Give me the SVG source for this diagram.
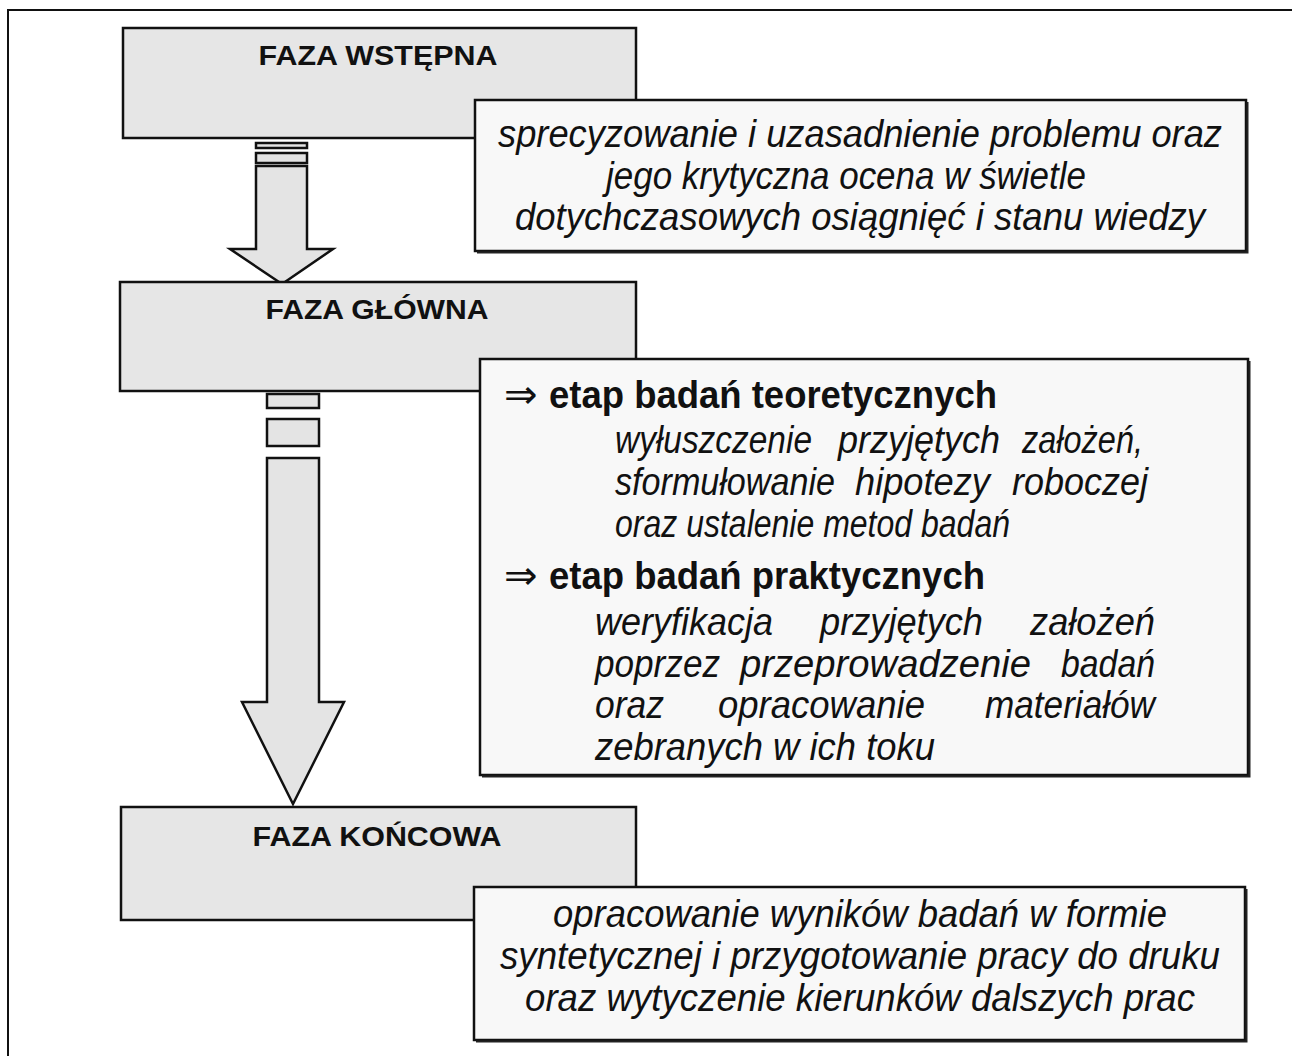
<svg xmlns="http://www.w3.org/2000/svg" width="1292" height="1056" viewBox="0 0 1292 1056">
<style>
.phase{fill:#e6e6e6;stroke:#111;stroke-width:2.5}
.desc{fill:#f8f8f8;stroke:#111;stroke-width:2.5}
.shadow{fill:none;stroke:#222;stroke-width:2}
.arrow{fill:#e4e4e4;stroke:#111;stroke-width:2.5;stroke-linejoin:miter}
.pt{font-family:"Liberation Sans",Arial,sans-serif;font-weight:bold;font-size:27px;fill:#111;text-anchor:middle}
.it{font-family:"Liberation Sans",Arial,sans-serif;font-style:italic;font-size:38px;fill:#111}
.itc{font-family:"Liberation Sans",Arial,sans-serif;font-style:italic;font-size:38px;fill:#111;text-anchor:middle}
.bd{font-family:"Liberation Sans",Arial,sans-serif;font-weight:bold;font-size:38px;fill:#111}
.sym{font-family:"DejaVu Sans",sans-serif;font-size:40px;fill:#111}
</style>
<rect width="1292" height="1056" fill="#fff"/>
<g id="frame"><path d="M8 1056 V10 H1292" fill="none" stroke="#111" stroke-width="2"/></g>

<g id="connectors">
  <rect class="arrow" x="256" y="143" width="51" height="5"/>
  <rect class="arrow" x="256" y="153" width="51" height="10"/>
  <path class="arrow" d="M256 166 H307 V249 H333 L282 284 L230 249 H256 Z"/>
  <rect class="arrow" x="267" y="394" width="52" height="14"/>
  <rect class="arrow" x="267" y="419" width="52" height="27"/>
  <path class="arrow" d="M267 458 H319 V702 H344 L293 804 L242 702 H267 Z"/>
</g>

<g id="phase1">
  <rect class="phase" x="123" y="28" width="513" height="110"/>
  <text class="pt" x="378" y="65" textLength="239" lengthAdjust="spacingAndGlyphs">FAZA WSTĘPNA</text>
</g>
<g id="desc1">
  <rect class="desc" x="475" y="100" width="771" height="151"/>
  <path class="shadow" d="M477 252.5 H1247.5 V102"/>
  <text class="itc" x="860" y="147" textLength="724" lengthAdjust="spacingAndGlyphs">sprecyzowanie i uzasadnienie problemu oraz</text>
  <text class="itc" x="846" y="189" textLength="480" lengthAdjust="spacingAndGlyphs">jego krytyczna ocena w świetle</text>
  <text class="itc" x="860" y="230" textLength="690" lengthAdjust="spacingAndGlyphs">dotychczasowych osiągnięć i stanu wiedzy</text>
</g>

<g id="phase2">
  <rect class="phase" x="120" y="282" width="516" height="109"/>
  <text class="pt" x="377" y="319" textLength="223" lengthAdjust="spacingAndGlyphs">FAZA GŁÓWNA</text>
</g>
<g id="desc2">
  <rect class="desc" x="480" y="359" width="768" height="416"/>
  <path class="shadow" d="M482 776.5 H1249.5 V361"/>
  <text x="504" y="408"><tspan class="sym">⇒</tspan><tspan class="bd" x="549" textLength="448" lengthAdjust="spacingAndGlyphs">etap badań teoretycznych</tspan></text>
  <text class="it" y="453"><tspan x="615" textLength="197" lengthAdjust="spacingAndGlyphs">wyłuszczenie</tspan><tspan x="838" textLength="162" lengthAdjust="spacingAndGlyphs">przyjętych</tspan><tspan x="1022" textLength="121" lengthAdjust="spacingAndGlyphs">założeń,</tspan></text>
  <text class="it" y="495"><tspan x="615" textLength="220" lengthAdjust="spacingAndGlyphs">sformułowanie</tspan><tspan x="855" textLength="135" lengthAdjust="spacingAndGlyphs">hipotezy</tspan><tspan x="1012" textLength="136" lengthAdjust="spacingAndGlyphs">roboczej</tspan></text>
  <text class="it" x="615" y="537" textLength="395" lengthAdjust="spacingAndGlyphs">oraz ustalenie metod badań</text>
  <text x="504" y="589"><tspan class="sym">⇒</tspan><tspan class="bd" x="549" textLength="436" lengthAdjust="spacingAndGlyphs">etap badań praktycznych</tspan></text>
  <text class="it" y="635"><tspan x="595" textLength="178" lengthAdjust="spacingAndGlyphs">weryfikacja</tspan><tspan x="820" textLength="163" lengthAdjust="spacingAndGlyphs">przyjętych</tspan><tspan x="1030" textLength="125" lengthAdjust="spacingAndGlyphs">założeń</tspan></text>
  <text class="it" y="677"><tspan x="595" textLength="125" lengthAdjust="spacingAndGlyphs">poprzez</tspan><tspan x="740" textLength="291" lengthAdjust="spacingAndGlyphs">przeprowadzenie</tspan><tspan x="1061" textLength="94" lengthAdjust="spacingAndGlyphs">badań</tspan></text>
  <text class="it" y="718"><tspan x="595" textLength="69" lengthAdjust="spacingAndGlyphs">oraz</tspan><tspan x="718" textLength="207" lengthAdjust="spacingAndGlyphs">opracowanie</tspan><tspan x="985" textLength="170" lengthAdjust="spacingAndGlyphs">materiałów</tspan></text>
  <text class="it" x="595" y="760" textLength="340" lengthAdjust="spacingAndGlyphs">zebranych w ich toku</text>
</g>

<g id="phase3">
  <rect class="phase" x="121" y="807" width="515" height="113"/>
  <text class="pt" x="377" y="846" textLength="249" lengthAdjust="spacingAndGlyphs">FAZA KOŃCOWA</text>
</g>
<g id="desc3">
  <rect class="desc" x="474" y="887" width="771" height="153"/>
  <path class="shadow" d="M476 1041.5 H1246.5 V889"/>
  <text class="itc" x="860" y="927" textLength="614" lengthAdjust="spacingAndGlyphs">opracowanie wyników badań w formie</text>
  <text class="itc" x="860" y="969" textLength="720" lengthAdjust="spacingAndGlyphs">syntetycznej i przygotowanie pracy do druku</text>
  <text class="itc" x="860" y="1011" textLength="670" lengthAdjust="spacingAndGlyphs">oraz wytyczenie kierunków dalszych prac</text>
</g>
</svg>
